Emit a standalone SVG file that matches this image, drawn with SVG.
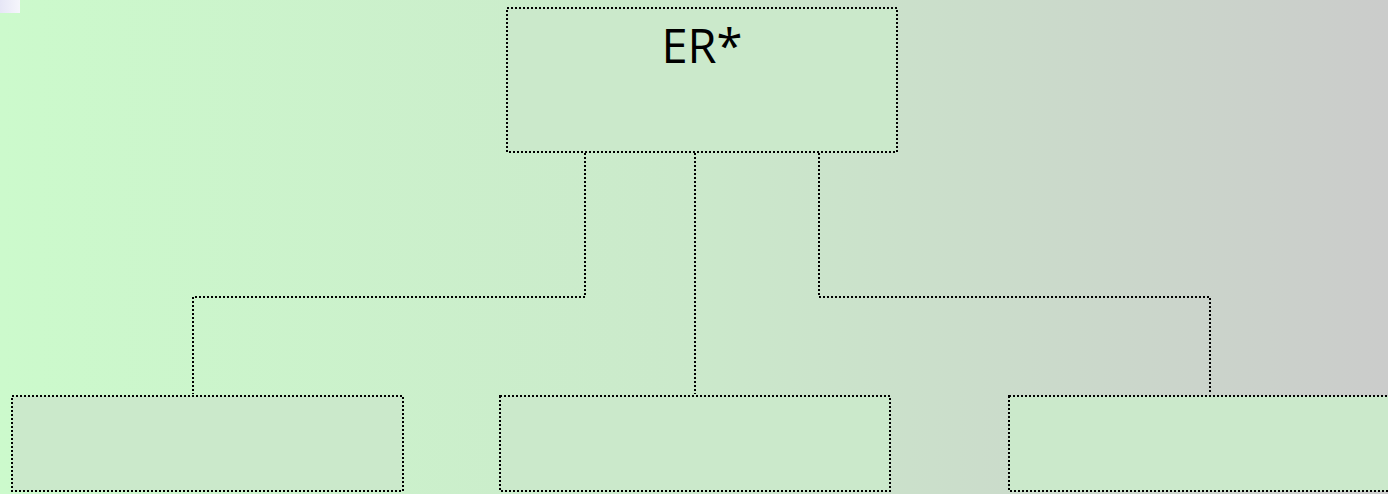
<svg xmlns="http://www.w3.org/2000/svg" width="1388" height="494" viewBox="0 0 1388 494">
<style>
.box{fill:#cbe9cb;stroke:#000;stroke-width:2;stroke-dasharray:2 2}
.conn{fill:none;stroke:#000;stroke-width:2;stroke-dasharray:2 2}
.lbl{font-family:"Open Sans","Noto Sans",sans-serif;font-size:47px;fill:#000;text-anchor:middle}
</style>
<defs>
<linearGradient id="bg" x1="0" y1="0" x2="1" y2="0">
<stop offset="0" stop-color="#ccfacc"/>
<stop offset="0.5" stop-color="#cbe9cb"/>
<stop offset="1" stop-color="#cbcccb"/>
</linearGradient>
<linearGradient id="sq" x1="0" y1="0" x2="1" y2="0">
<stop offset="0" stop-color="#e6e6f6"/>
<stop offset="1" stop-color="#f6f6fc"/>
</linearGradient>
</defs>
<rect width="1388" height="494" fill="url(#bg)"/>
<rect width="20" height="13" fill="url(#sq)"/>
<g id="connectors">
<path class="conn" d="M585 153V297H193V394"/>
<path class="conn" d="M695 153V394"/>
<path class="conn" d="M819 153V297H1210V394"/>
</g>
<g id="node-er">
<rect class="box" x="507" y="8" width="390" height="144"/>
<text class="lbl" x="702" y="63">ER*</text>
</g>
<g id="node-left">
<rect class="box" x="12" y="396" width="391" height="95"/>
</g>
<g id="node-middle">
<rect class="box" x="500" y="396" width="390" height="95"/>
</g>
<g id="node-right">
<rect class="box" x="1009" y="396" width="392" height="95"/>
</g>
</svg>
